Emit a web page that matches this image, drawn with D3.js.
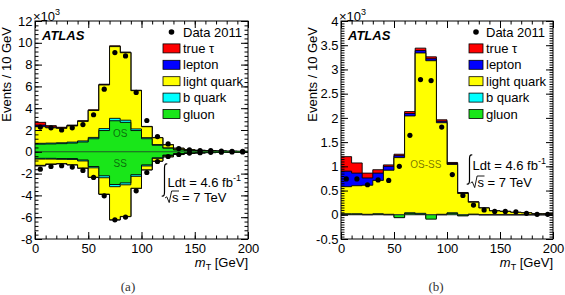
<!DOCTYPE html>
<html>
<head>
<meta charset="utf-8">
<script src="https://cdn.jsdelivr.net/npm/d3@7"></script>
<style>
  body { margin: 0; background: #fff; }
  svg { display: block; font-family: "Liberation Sans", Arial, sans-serif; }
</style>
</head>
<body>
<svg id="fig" width="565" height="295"></svg>
<script>
// lower bin edges, m_T in GeV (10 GeV bins)
const massBins = [0, 10, 20, 30, 40, 50, 60, 70, 80, 90, 100, 110, 120, 130, 140, 150, 160, 170, 180, 190];
const massMax = 200;

// values in units of 10^3 events / 10 GeV
// (a) opposite sign, stacked upward
const osGluon  = [0.7, 0.72, 0.75, 0.8, 0.9, 1.2, 1.95, 2.85, 2.7, 1.95, 1.2, 0.6, 0.33, 0.17, 0.1, 0.07, 0.05, 0.035, 0.025, 0.02];
const osBquark = [0.08, 0.08, 0.08, 0.09, 0.1, 0.12, 0.18, 0.22, 0.2, 0.15, 0.1, 0.06, 0.03, 0.02, 0.01, 0.01, 0, 0, 0, 0];
const osLight  = [1.52, 1.4, 1.32, 1.48, 1.79, 2.47, 4.0, 6.58, 6.19, 3.51, 1.0, 0.63, 0.28, 0.13, 0.09, 0.05, 0.05, 0.035, 0.025, 0.02];
const osLepton = [0.15, 0.08, 0.04, 0.03, 0.02, 0.02, 0.02, 0.02, 0.02, 0.01, 0.01, 0, 0, 0, 0, 0, 0, 0, 0, 0];
const osTau    = [0.25, 0.12, 0.06, 0.05, 0.04, 0.04, 0.05, 0.05, 0.04, 0.03, 0.02, 0.01, 0.01, 0, 0, 0, 0, 0, 0, 0];
const osData   = [2.27, 2.2, 2.0, 2.2, 2.5, 3.4, 5.75, 9.1, 8.8, 5.45, 2.87, 1.4, 0.72, 0.3, 0.17, 0.12, 0.1, 0.07, 0.05, 0.04];

// (a) same sign, drawn below zero
const ssGluon  = [-0.6, -0.6, -0.62, -0.62, -0.75, -1.35, -2.2, -3.0, -2.85, -2.1, -1.2, -0.55, -0.3, -0.16, -0.09, -0.06, -0.04, -0.03, -0.02, -0.01];
const ssBquark = [-0.07, -0.07, -0.07, -0.08, -0.09, -0.12, -0.18, -0.2, -0.18, -0.15, -0.1, -0.05, -0.03, -0.02, -0.01, -0.01, 0, 0, 0, 0];
const ssLight  = [-0.57, -0.44, -0.39, -0.48, -0.64, -0.86, -1.5, -3.03, -2.9, -1.09, -0.35, -0.25, -0.12, -0.07, -0.05, -0.03, -0.03, -0.02, -0.01, -0.01];
const ssLepton = [-0.03, -0.02, -0.01, -0.01, -0.01, -0.01, -0.01, -0.01, -0.01, 0, 0, 0, 0, 0, 0, 0, 0, 0, 0, 0];
const ssTau    = [-0.03, -0.02, -0.01, -0.01, -0.01, -0.01, -0.01, -0.01, -0.01, -0.01, 0, 0, 0, 0, 0, 0, 0, 0, 0, 0];
const ssData   = [-1.59, -1.35, -1.28, -1.4, -1.71, -2.35, -4.04, -6.24, -5.99, -3.58, -1.9, -0.89, -0.43, -0.25, -0.12, -0.08, -0.05, -0.03, -0.02, -0.01];

// (b) OS - SS
const difGluon  = [0.01, 0.01, 0, 0.01, 0, -0.06, 0.03, 0.01, -0.09, 0, 0.03, -0.02, 0.01, 0, 0, 0, 0, 0, 0, 0];
const difBquark = [0.01, 0.01, 0.01, 0.01, 0.01, 0.01, 0.01, 0.02, 0.02, 0.01, 0.01, 0, 0, 0, 0, 0, 0, 0, 0, 0];
const difLight  = [0.56, 0.58, 0.6, 0.69, 0.91, 1.23, 2.0, 3.31, 3.25, 1.89, 1.0, 0.46, 0.25, 0.14, 0.08, 0.07, 0.05, 0.04, 0.02, 0.02];
const difLepton = [0.32, 0.26, 0.15, 0.15, 0.08, 0.04, 0.05, 0.05, 0.04, 0.03, 0.02, 0.01, 0, 0, 0, 0, 0, 0, 0, 0];
const difTau    = [0.3, 0.21, 0.1, 0.07, 0.03, 0.03, 0.04, 0.05, 0.04, 0.03, 0.02, 0.01, 0.01, 0, 0, 0, 0, 0, 0, 0];
const difData   = [0.74, 0.74, 0.62, 0.72, 0.71, 1.0, 1.64, 2.79, 2.77, 1.81, 0.83, 0.4, 0.2, 0.1, 0.07, 0.07, 0.06, 0.03, 0.01, 0.01];

const legendLabels = ["true \u03c4", "lepton", "light quark", "b quark", "gluon"];
const legendColors = ["#ff0000", "#0000ff", "#ffff00", "#00ffff", "#19e619"];
// stacking order, bottom first
const stackColors = ["#19e619", "#00ffff", "#ffff00", "#0000ff", "#ff0000"];

const svg = d3.select("#fig");
const FONT = "'Liberation Sans', Arial, sans-serif";
const FS = 13;

function cumulate(series) {
  let run = massBins.map(() => 0);
  return series.map(s => (run = run.map((r, i) => r + s[i])));
}

function drawPanel(cfg) {
  const W = cfg.x1 - cfg.x0, H = 239 - 21;
  const g = svg.append("g").attr("transform", `translate(${cfg.x0},21)`);
  const x = d3.scaleLinear().domain([0, massMax]).range([0, W]);
  const y = d3.scaleLinear().domain(cfg.yDomain).range([H, 0]);

  const clipId = "clip" + cfg.name;
  g.append("clipPath").attr("id", clipId)
    .append("rect").attr("width", W).attr("height", H);
  const plot = g.append("g").attr("clip-path", `url(#${clipId})`);

  const pts = v => massBins.map((b, i) => [b, v[i]]).concat([[massMax, v[v.length - 1]]]);
  const area = d3.area().curve(d3.curveStepAfter)
    .x(d => x(d[0])).y0(y(0)).y1(d => y(d[1]));
  const line = d3.line().curve(d3.curveStepAfter)
    .x(d => x(d[0])).y(d => y(d[1]));

  cfg.stacks.forEach(st => {
    const cum = cumulate(st);
    // ROOT style: draw the summed histograms from the largest down
    for (let k = cum.length - 1; k >= 0; k--) {
      plot.append("path").attr("d", area(pts(cum[k])))
        .attr("fill", stackColors[k]);
      plot.append("path").attr("d", line(pts(cum[k])))
        .attr("fill", "none").attr("stroke", "#000").attr("stroke-width", 0.9);
    }
  });

  plot.append("line")
    .attr("x1", 0).attr("x2", W).attr("y1", y(0)).attr("y2", y(0))
    .attr("stroke", cfg.zeroColor).attr("stroke-width", 1.1);

  // region labels
  cfg.regionLabels.forEach(r => {
    g.append("text").attr("x", x(r.m)).attr("y", y(r.v))
      .attr("text-anchor", "middle").attr("font-size", 10)
      .attr("fill", "#000").attr("fill-opacity", 0.55).text(r.t);
  });

  cfg.data.forEach(dv => {
    plot.selectAll(null).data(dv).enter().append("circle")
      .attr("cx", (d, i) => x(massBins[i] + 5))
      .attr("cy", d => y(d))
      .attr("r", 2.6).attr("fill", "#000");
  });

  // axes with ticks on all sides
  const xMaj = [0, 50, 100, 150, 200];
  const xMin = d3.range(0, 201, 10);
  const yMaj = cfg.yMajor, yMin = cfg.yMinor;
  const fmt = d => String(+d.toFixed(2));

  const ax = [
    g.append("g").call(d3.axisLeft(y).tickValues(yMaj).tickSizeInner(-7).tickSizeOuter(0).tickPadding(2.5).tickFormat(fmt)),
    g.append("g").call(d3.axisLeft(y).tickValues(yMin).tickSizeInner(-3.5).tickSizeOuter(0).tickFormat("")),
    g.append("g").attr("transform", `translate(${W},0)`).call(d3.axisRight(y).tickValues(yMaj).tickSizeInner(-7).tickSizeOuter(0).tickFormat("")),
    g.append("g").attr("transform", `translate(${W},0)`).call(d3.axisRight(y).tickValues(yMin).tickSizeInner(-3.5).tickSizeOuter(0).tickFormat("")),
    g.append("g").attr("transform", `translate(0,${H})`).call(d3.axisBottom(x).tickValues(xMaj).tickSizeInner(-7).tickSizeOuter(0).tickPadding(4.5).tickFormat(fmt)),
    g.append("g").attr("transform", `translate(0,${H})`).call(d3.axisBottom(x).tickValues(xMin).tickSizeInner(-3.5).tickSizeOuter(0).tickFormat("")),
    g.append("g").call(d3.axisTop(x).tickValues(xMaj).tickSizeInner(-7).tickSizeOuter(0).tickFormat("")),
    g.append("g").call(d3.axisTop(x).tickValues(xMin).tickSizeInner(-3.5).tickSizeOuter(0).tickFormat(""))
  ];
  ax.forEach(a => {
    a.attr("font-family", FONT).attr("font-size", FS);
    a.select(".domain").remove();
    a.selectAll("text").attr("fill", "#000");
  });

  g.append("rect").attr("width", W).attr("height", H)
    .attr("fill", "none").attr("stroke", "#000").attr("stroke-width", 1);

  // multiplier
  const mult = svg.append("text").attr("x", cfg.x0 - 2).attr("y", 20.5)
    .attr("font-size", FS).text("\u00d710");
  mult.append("tspan").attr("dy", -6).attr("font-size", 9).text("3");

  // axis titles
  svg.append("text")
    .attr("transform", `translate(${cfg.x0 - 24},27) rotate(-90)`)
    .attr("text-anchor", "end").attr("font-size", FS).text("Events / 10 GeV");
  const xt = svg.append("text").attr("x", cfg.x1).attr("y", 267)
    .attr("text-anchor", "end").attr("font-size", FS);
  xt.append("tspan").attr("font-style", "italic").text("m");
  xt.append("tspan").attr("font-size", 9).attr("dy", 3).text("T");
  xt.append("tspan").attr("dy", -3).text(" [GeV]");

  // ATLAS label
  svg.append("text").attr("x", cfg.x0 + 7).attr("y", 39.5)
    .attr("font-size", FS).attr("font-weight", "bold").attr("font-style", "italic")
    .text("ATLAS");

  // legend
  const lg = svg.append("g");
  const rowY = i => 32 + i * 16.4;
  lg.append("circle").attr("cx", cfg.legX + cfg.boxW / 2).attr("cy", rowY(0)).attr("r", 2.8).attr("fill", "#000");
  lg.append("text").attr("x", cfg.legX + cfg.boxW + 3).attr("y", rowY(0) + 4.6)
    .attr("font-size", FS).text("Data 2011");
  legendLabels.forEach((t, i) => {
    lg.append("rect").attr("x", cfg.legX).attr("y", rowY(i + 1) - 4.5)
      .attr("width", cfg.boxW).attr("height", 9)
      .attr("fill", legendColors[i]).attr("stroke", "#000").attr("stroke-width", 0.8);
    lg.append("text").attr("x", cfg.legX + cfg.boxW + 3).attr("y", rowY(i + 1) + 4.6)
      .attr("font-size", FS).text(t);
  });

  // luminosity / energy
  const ix = cfg.intX, it = cfg.intTop, ib = cfg.intBot;
  svg.append("path")
    .attr("d", `M${ix + 2.8},${it} C${ix + 0.6},${it - 0.6} ${ix},${it + 1} ${ix},${it + 4} L${ix},${ib - 4} C${ix},${ib - 1} ${ix - 0.6},${ib + 0.6} ${ix - 2.8},${ib}`)
    .attr("fill", "none").attr("stroke", "#000").attr("stroke-width", 1.2);
  const lt = svg.append("text").attr("x", ix + 3).attr("y", cfg.ldtY).attr("font-size", 13);
  lt.append("tspan").text("Ldt = 4.6 fb");
  lt.append("tspan").attr("dy", -5.5).attr("font-size", 9).text("-1");
  const sx = cfg.sqrtX, sy = cfg.sqrtY;
  svg.append("path")
    .attr("d", `M${sx},${sy - 4} L${sx + 1.8},${sy - 5.2} L${sx + 4.2},${sy + 0.6} L${sx + 6.6},${sy - 11} L${sx + 14},${sy - 11}`)
    .attr("fill", "none").attr("stroke", "#000").attr("stroke-width", 0.9);
  svg.append("text").attr("x", sx + 7).attr("y", sy).attr("font-size", 13).text("s = 7 TeV");

  // sub-caption
  svg.append("text").attr("x", cfg.capX).attr("y", 291)
    .attr("text-anchor", "middle").attr("font-family", "'Liberation Serif', 'DejaVu Serif', serif")
    .attr("font-size", 13).attr("fill", "#333").text(cfg.caption);
}

drawPanel({
  name: "a", x0: 35, x1: 248,
  yDomain: [-8, 12],
  yMajor: d3.range(-8, 12.1, 2),
  yMinor: d3.range(-8, 12.01, 0.4),
  stacks: [[osGluon, osBquark, osLight, osLepton, osTau], [ssGluon, ssBquark, ssLight, ssLepton, ssTau]],
  data: [osData, ssData],
  zeroColor: "#136313",
  regionLabels: [{ m: 80, v: 1.35, t: "OS" }, { m: 80, v: -1.35, t: "SS" }],
  legX: 163, boxW: 17,
  intX: 164.5, intTop: 164, intBot: 196, ldtY: 186.5, sqrtX: 165, sqrtY: 202,
  capX: 128, caption: "(a)"
});

drawPanel({
  name: "b", x0: 341, x1: 553,
  yDomain: [-0.5, 4],
  yMajor: d3.range(-0.5, 4.01, 0.5),
  yMinor: d3.range(-0.5, 4.001, 0.05),
  stacks: [[difGluon, difBquark, difLight, difLepton, difTau]],
  data: [difData],
  zeroColor: "#222",
  regionLabels: [{ m: 80, v: 0.97, t: "OS-SS" }],
  legX: 469, boxW: 14,
  intX: 469.5, intTop: 155, intBot: 184, ldtY: 169.5, sqrtX: 470.5, sqrtY: 187,
  capX: 436, caption: "(b)"
});
</script>
</body>
</html>
